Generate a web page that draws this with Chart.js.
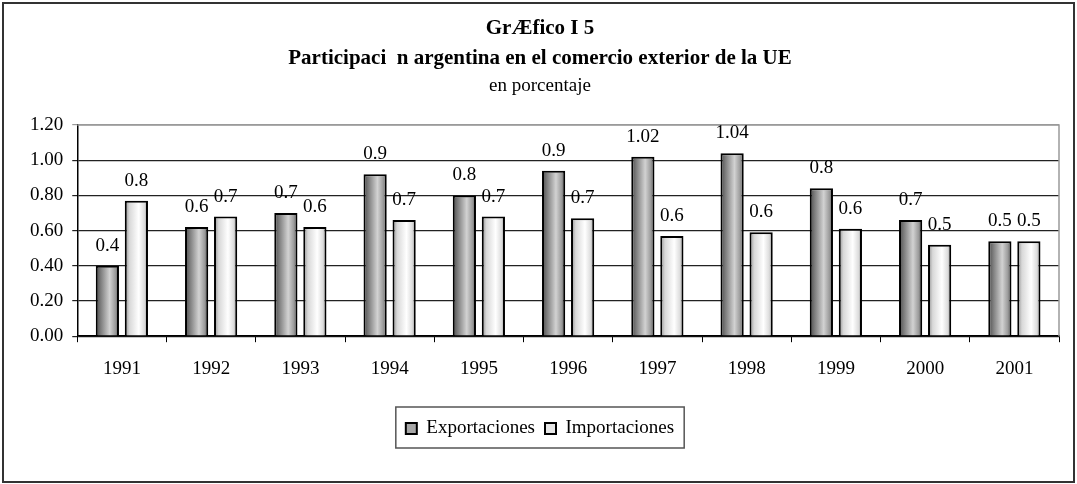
<!DOCTYPE html>
<html>
<head>
<meta charset="utf-8">
<script src="https://cdn.jsdelivr.net/npm/chart.js@4.4.0/dist/chart.umd.min.js"></script>
<style>
  body { margin: 0; background: #fff; }
  #wrap { width: 1077px; height: 484px; position: relative; }
</style>
</head>
<body>
<div id="wrap"><canvas id="chart"></canvas></div>
<script>
// Data
const years = ['1991', '1992', '1993', '1994', '1995', '1996', '1997', '1998', '1999', '2000', '2001'];
const exportaciones = [0.40, 0.62, 0.70, 0.92, 0.80, 0.94, 1.02, 1.04, 0.84, 0.66, 0.54];
const importaciones = [0.77, 0.68, 0.62, 0.66, 0.68, 0.67, 0.57, 0.59, 0.61, 0.52, 0.54];
const yTicks = [0, 0.2, 0.4, 0.6, 0.8, 1.0, 1.2];

const FONT = 'Liberation Serif';

const gradStops = [
    [[0, '#4a4a4a'], [0.2, '#7a7a7a'], [0.6, '#d2d2d2'], [0.85, '#9a9a9a'], [1, '#4a4a4a']],
    [[0, '#8c8c8c'], [0.2, '#d8d8d8'], [0.6, '#ffffff'], [0.85, '#dcdcdc'], [1, '#8c8c8c']]
];

// shaded fill for each bar, built from the bar's own position
const barShade = {
    id: 'barShade',
    afterDatasetsUpdate(chart) {
        const ctx = chart.ctx;
        chart.data.datasets.forEach((ds, di) => {
            chart.getDatasetMeta(di).data.forEach(el => {
                const g = ctx.createLinearGradient(el.x - el.width / 2, 0, el.x + el.width / 2, 0);
                gradStops[di].forEach(s => g.addColorStop(s[0], s[1]));
                el.options = Object.assign({}, el.options, { backgroundColor: g });
            });
        });
    }
};

// plot border, value labels, legend frame, outer frame
const decorations = {
    id: 'decorations',
    beforeDatasetsDraw(chart) {
        const { ctx, chartArea: a } = chart;
        ctx.save();
        ctx.strokeStyle = '#9a9a9a';
        ctx.lineWidth = 1.5;
        ctx.beginPath();
        ctx.moveTo(a.left, a.top);
        ctx.lineTo(a.right, a.top);
        ctx.lineTo(a.right, a.bottom);
        ctx.stroke();
        ctx.restore();
    },
    afterDatasetsDraw(chart) {
        const ctx = chart.ctx;
        ctx.save();
        ctx.font = '19px "' + FONT + '"';
        ctx.fillStyle = '#000';
        ctx.textAlign = 'center';
        ctx.textBaseline = 'middle';
        chart.data.datasets.forEach((ds, di) => {
            chart.getDatasetMeta(di).data.forEach((el, i) => {
                const v = ds.data[i];
                const txt = v >= 1 ? v.toFixed(2) : v.toFixed(1);
                ctx.fillText(txt, el.x, el.y - 20);
            });
        });
        ctx.restore();
    },
    afterDraw(chart) {
        const ctx = chart.ctx;
        const boxes = chart.legend.legendHitBoxes;
        ctx.save();
        if (boxes && boxes.length) {
            const l = boxes[0].left - 10;
            const r = boxes[boxes.length - 1].left + boxes[boxes.length - 1].width + 10;
            const t = boxes[0].top - 12;
            const b = boxes[0].top + boxes[0].height + 10;
            ctx.strokeStyle = '#555';
            ctx.lineWidth = 1.5;
            ctx.strokeRect(l, t, r - l, b - t);
        }
        ctx.strokeStyle = '#333';
        ctx.lineWidth = 2;
        ctx.strokeRect(3, 3, chart.width - 6, chart.height - 5);
        ctx.restore();
    }
};

new Chart(document.getElementById('chart'), {
    type: 'bar',
    data: {
        labels: years,
        datasets: [
            { label: 'Exportaciones', data: exportaciones, backgroundColor: '#a8a8a8', borderColor: '#000', borderWidth: 2 },
            { label: 'Importaciones', data: importaciones, backgroundColor: '#e6e6e6', borderColor: '#000', borderWidth: 2 }
        ]
    },
    options: {
        responsive: true,
        maintainAspectRatio: false,
        animation: false,
        categoryPercentage: 0.65,
        barPercentage: 0.8,
        layout: { padding: { top: 12, left: 21, right: 18, bottom: 36 } },
        plugins: {
            title: {
                display: true,
                text: ['GrÆfico I 5', 'Participaci  n argentina en el comercio exterior de la UE'],
                color: '#000',
                font: { family: FONT, size: 21, weight: 'bold', lineHeight: '30px' },
                padding: { top: 2, bottom: 0 }
            },
            subtitle: {
                display: true,
                text: 'en porcentaje',
                color: '#000',
                font: { family: FONT, size: 19, lineHeight: '24px' },
                padding: { top: 0, bottom: 27 }
            },
            legend: {
                position: 'bottom',
                labels: {
                    color: '#000',
                    font: { family: FONT, size: 19 },
                    boxWidth: 11,
                    boxHeight: 11,
                    padding: 10
                }
            },
            tooltip: { enabled: false }
        },
        scales: {
            x: {
                afterFit(scale) { scale.height += 14; },
                grid: { drawOnChartArea: false, drawTicks: true, tickLength: 6, color: '#000' },
                border: { color: '#000', width: 1.5 },
                ticks: { color: '#000', font: { family: FONT, size: 19 }, padding: 15 }
            },
            y: {
                min: 0,
                max: 1.2,
                afterBuildTicks(scale) { scale.ticks = yTicks.map(v => ({ value: v })); },
                grid: {
                    color: c => (c.tick && c.tick.value >= 1.2 ? '#9a9a9a' : '#222'),
                    lineWidth: 1.2,
                    tickLength: 5
                },
                border: { color: '#000', width: 1.5 },
                ticks: {
                    color: '#000',
                    font: { family: FONT, size: 19 },
                    padding: 9,
                    callback: v => Number(v).toFixed(2)
                }
            }
        }
    },
    plugins: [barShade, decorations]
});
</script>
</body>
</html>
